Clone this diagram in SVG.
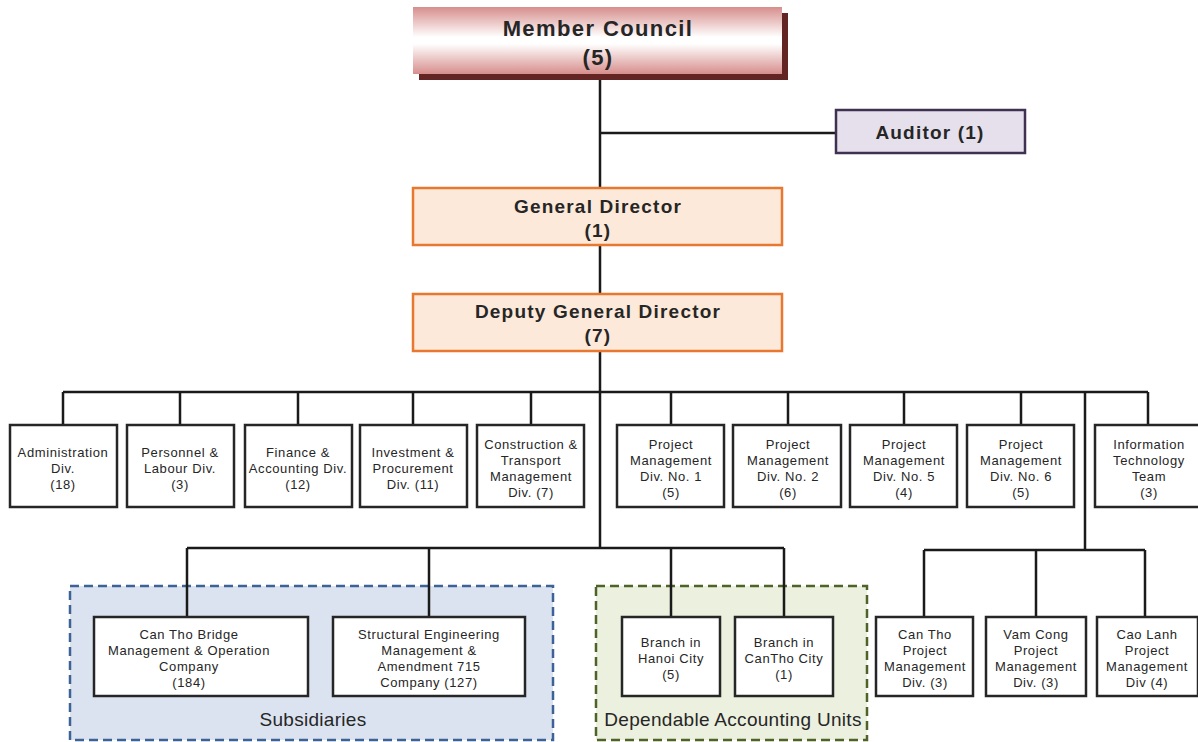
<svg xmlns="http://www.w3.org/2000/svg" width="1198" height="742" viewBox="0 0 1198 742">
<defs>
<linearGradient id="mcGrad" x1="0" y1="0" x2="0" y2="1">
<stop offset="0" stop-color="#d68e8c"/>
<stop offset="0.45" stop-color="#ffffff"/>
<stop offset="0.55" stop-color="#ffffff"/>
<stop offset="1" stop-color="#d68e8c"/>
</linearGradient>
<style>
.ln{stroke:#1a1a1a;stroke-width:2.5;fill:none}
.bx{fill:#ffffff;stroke:#262626;stroke-width:2.5}
.or{fill:#fde9d9;stroke:#e8782f;stroke-width:2.5}
.t{font-family:"Liberation Sans",Arial,sans-serif;font-size:13px;fill:#262626;text-anchor:middle;letter-spacing:0.6px}
.tb{font-family:"Liberation Sans",Arial,sans-serif;font-weight:bold;fill:#262626;text-anchor:middle;font-size:19px;letter-spacing:1.2px}
.grp{font-family:"Liberation Sans",Arial,sans-serif;font-size:19px;fill:#262626;text-anchor:middle;letter-spacing:0.3px}
</style>
</defs>

<g id="group-subsidiaries">
<rect x="70" y="586" width="483" height="154" fill="#dce3f0" stroke="#3d6296" stroke-width="2.5" stroke-dasharray="9,5"/>
<text class="grp" x="313" y="726">Subsidiaries</text>
</g>
<g id="group-dependable">
<rect x="596" y="586" width="271" height="154" fill="#ebf0df" stroke="#4f6228" stroke-width="2.5" stroke-dasharray="9,5"/>
<text class="grp" x="733" y="726">Dependable Accounting Units</text>
</g>

<g id="connectors">
<path class="ln" d="M600 74V548"/>
<path class="ln" d="M600 133H836"/>
<path class="ln" d="M63 392H1148"/>
<path class="ln" d="M63 392V425M180 392V425M298 392V425M413 392V425M531 392V425M671 392V425M788 392V425M904 392V425M1021 392V425M1148 392V425"/>
<path class="ln" d="M187 548H784M187 548V617M429 548V617M671 548V617M784 548V617"/>
<path class="ln" d="M1085 392V550M924 550H1145M924 550V617M1036 550V617M1145 550V617"/>
</g>

<g id="member-council">
<rect x="419" y="13" width="369" height="67" fill="#632523"/>
<rect x="413" y="7" width="369" height="67" fill="url(#mcGrad)"/>
<text class="tb" x="598" y="36" font-size="22" style="font-size:22px;letter-spacing:1.4px">Member Council</text>
<text class="tb" x="598" y="65" style="font-size:22px;letter-spacing:1.4px">(5)</text>
</g>

<g id="auditor">
<rect x="836" y="110" width="189" height="43" fill="#e5e0ec" stroke="#3f3151" stroke-width="2.5"/>
<text class="tb" x="930" y="139">Auditor (1)</text>
</g>

<g id="general-director">
<rect class="or" x="413" y="188" width="369" height="57"/>
<text class="tb" x="598" y="213">General Director</text>
<text class="tb" x="598" y="237">(1)</text>
</g>

<g id="deputy-general-director">
<rect class="or" x="413" y="294" width="369" height="57"/>
<text class="tb" x="598" y="318">Deputy General Director</text>
<text class="tb" x="598" y="342">(7)</text>
</g>

<g id="admin">
<rect class="bx" x="10" y="425" width="107" height="82"/>
<text class="t" x="63" y="457">Administration</text>
<text class="t" x="63" y="473">Div.</text>
<text class="t" x="63" y="489">(18)</text>
</g>
<g id="personnel">
<rect class="bx" x="127" y="425" width="107" height="82"/>
<text class="t" x="180" y="457">Personnel &amp;</text>
<text class="t" x="180" y="473">Labour Div.</text>
<text class="t" x="180" y="489">(3)</text>
</g>
<g id="finance">
<rect class="bx" x="245" y="425" width="107" height="82"/>
<text class="t" x="298" y="457">Finance &amp;</text>
<text class="t" x="298" y="473">Accounting  Div.</text>
<text class="t" x="298" y="489">(12)</text>
</g>
<g id="investment">
<rect class="bx" x="360" y="425" width="107" height="82"/>
<text class="t" x="413" y="457">Investment &amp;</text>
<text class="t" x="413" y="473">Procurement</text>
<text class="t" x="413" y="489">Div. (11)</text>
</g>
<g id="construction">
<rect class="bx" x="477" y="425" width="107" height="82"/>
<text class="t" x="531" y="449">Construction &amp;</text>
<text class="t" x="531" y="465">Transport</text>
<text class="t" x="531" y="481">Management</text>
<text class="t" x="531" y="497">Div. (7)</text>
</g>
<g id="pm1">
<rect class="bx" x="617" y="425" width="107" height="82"/>
<text class="t" x="671" y="449">Project</text>
<text class="t" x="671" y="465">Management</text>
<text class="t" x="671" y="481">Div. No. 1</text>
<text class="t" x="671" y="497">(5)</text>
</g>
<g id="pm2">
<rect class="bx" x="733" y="425" width="108" height="82"/>
<text class="t" x="788" y="449">Project</text>
<text class="t" x="788" y="465">Management</text>
<text class="t" x="788" y="481">Div. No. 2</text>
<text class="t" x="788" y="497">(6)</text>
</g>
<g id="pm5">
<rect class="bx" x="850" y="425" width="107" height="82"/>
<text class="t" x="904" y="449">Project</text>
<text class="t" x="904" y="465">Management</text>
<text class="t" x="904" y="481">Div. No. 5</text>
<text class="t" x="904" y="497">(4)</text>
</g>
<g id="pm6">
<rect class="bx" x="967" y="425" width="107" height="82"/>
<text class="t" x="1021" y="449">Project</text>
<text class="t" x="1021" y="465">Management</text>
<text class="t" x="1021" y="481">Div. No. 6</text>
<text class="t" x="1021" y="497">(5)</text>
</g>
<g id="it-team">
<rect class="bx" x="1095" y="425" width="108" height="82"/>
<text class="t" x="1149" y="449">Information</text>
<text class="t" x="1149" y="465">Technology</text>
<text class="t" x="1149" y="481">Team</text>
<text class="t" x="1149" y="497">(3)</text>
</g>

<g id="can-tho-bridge">
<rect class="bx" x="94" y="617" width="214" height="79"/>
<text class="t" x="189" y="639">Can Tho Bridge</text>
<text class="t" x="189" y="655">Management &amp; Operation</text>
<text class="t" x="189" y="671">Company</text>
<text class="t" x="189" y="687">(184)</text>
</g>
<g id="structural">
<rect class="bx" x="333" y="617" width="192" height="79"/>
<text class="t" x="429" y="639">Structural Engineering</text>
<text class="t" x="429" y="655">Management &amp;</text>
<text class="t" x="429" y="671">Amendment 715</text>
<text class="t" x="429" y="687">Company (127)</text>
</g>
<g id="branch-hanoi">
<rect class="bx" x="622" y="617" width="98" height="79"/>
<text class="t" x="671" y="647">Branch in</text>
<text class="t" x="671" y="663">Hanoi City</text>
<text class="t" x="671" y="679">(5)</text>
</g>
<g id="branch-cantho">
<rect class="bx" x="735" y="617" width="98" height="79"/>
<text class="t" x="784" y="647">Branch in</text>
<text class="t" x="784" y="663">CanTho City</text>
<text class="t" x="784" y="679">(1)</text>
</g>
<g id="can-tho-pm">
<rect class="bx" x="876" y="617" width="97" height="79"/>
<text class="t" x="925" y="639">Can Tho</text>
<text class="t" x="925" y="655">Project</text>
<text class="t" x="925" y="671">Management</text>
<text class="t" x="925" y="687">Div. (3)</text>
</g>
<g id="vam-cong-pm">
<rect class="bx" x="986" y="617" width="100" height="79"/>
<text class="t" x="1036" y="639">Vam Cong</text>
<text class="t" x="1036" y="655">Project</text>
<text class="t" x="1036" y="671">Management</text>
<text class="t" x="1036" y="687">Div. (3)</text>
</g>
<g id="cao-lanh-pm">
<rect class="bx" x="1097" y="617" width="101" height="79"/>
<text class="t" x="1147" y="639">Cao Lanh</text>
<text class="t" x="1147" y="655">Project</text>
<text class="t" x="1147" y="671">Management</text>
<text class="t" x="1147" y="687">Div (4)</text>
</g>
</svg>
